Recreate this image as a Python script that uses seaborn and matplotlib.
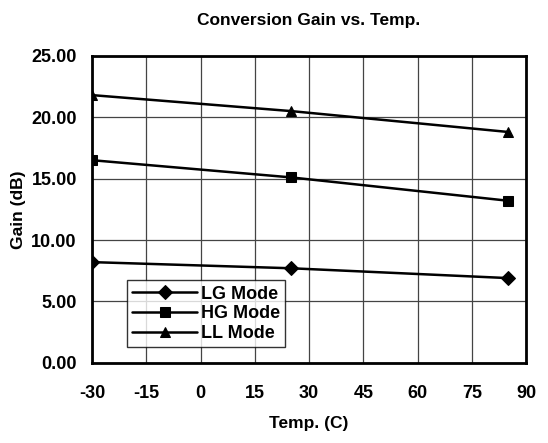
import pandas as pd
import matplotlib.pyplot as plt
import seaborn as sns

# Conversion gain vs temperature
temps = [-30, 25, 85]
lg_gain = [8.2, 7.7, 6.9]
hg_gain = [16.5, 15.1, 13.2]
ll_gain = [21.8, 20.5, 18.8]

df = pd.DataFrame({
    'Temp': temps * 3,
    'Gain': lg_gain + hg_gain + ll_gain,
    'Mode': ['LG Mode'] * 3 + ['HG Mode'] * 3 + ['LL Mode'] * 3,
})

sns.set_style('white')
plt.rcParams['font.family'] = ['Liberation Sans Narrow', 'Liberation Sans', 'DejaVu Sans']
plt.rcParams['font.weight'] = 'bold'
plt.rcParams['axes.unicode_minus'] = False
for key in ['text.color', 'axes.labelcolor', 'xtick.color', 'ytick.color']:
    plt.rcParams[key] = 'black'

fig = plt.figure(figsize=(5.48, 4.43), dpi=100)
ax = fig.add_axes([0.168, 0.181, 0.792, 0.693])

sns.lineplot(data=df, x='Temp', y='Gain', hue='Mode', style='Mode',
             palette=['black'] * 3, markers=['D', 's', '^'], dashes=False,
             markersize=7, linewidth=1.8, markeredgecolor='black', ax=ax)

ax.set_xlim(-30, 90)
ax.set_ylim(0, 25)
ax.set_xticks(range(-30, 91, 15))
ax.set_yticks([0, 5, 10, 15, 20, 25])
ax.set_yticklabels([f'{v:.2f}' for v in [0, 5, 10, 15, 20, 25]])
ax.grid(True, color='#444444', linewidth=0.9)
ax.tick_params(length=0, labelsize=13)
ax.tick_params(axis='x', pad=16)
ax.tick_params(axis='y', pad=11)
for s in ax.spines.values():
    s.set_linewidth(2)
    s.set_color('black')

ax.set_xlabel('Temp. (C)', fontsize=12.5, fontweight='bold', labelpad=10)
ax.set_ylabel('Gain (dB)', fontsize=12.5, fontweight='bold', labelpad=4)
ax.set_title('Conversion Gain vs. Temp.', fontsize=12.5, fontweight='bold', pad=22)

leg = ax.legend(loc='lower left', bbox_to_anchor=(0.08, 0.05), fontsize=13,
                frameon=True, fancybox=False, edgecolor='black',
                handlelength=3.6, borderpad=0.3, labelspacing=0.15, handletextpad=0.2,
                borderaxespad=0)
leg.get_frame().set_linewidth(1)

fig.savefig('out.png', dpi=100)
